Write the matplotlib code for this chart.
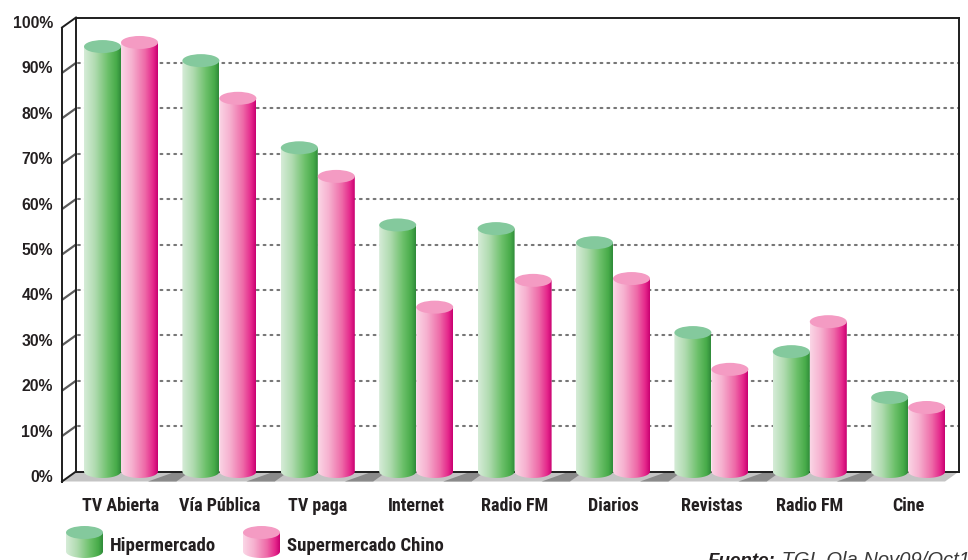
import numpy as np
import matplotlib
matplotlib.use('Agg')
import matplotlib.pyplot as plt
from matplotlib import font_manager as fm
from matplotlib.colors import LinearSegmentedColormap
from matplotlib.patches import Ellipse, PathPatch, Polygon
from matplotlib.path import Path

# ---------------- data ----------------
categories = ["TV Abierta", "Vía Pública", "TV paga", "Internet", "Radio FM",
              "Diarios", "Revistas", "Radio FM", "Cine"]
hipermercado = [93.6, 90.5, 71.3, 54.3, 53.5, 50.4, 30.6, 26.4, 16.3]
supermercado_chino = [94.5, 82.2, 65.0, 36.2, 42.1, 42.5, 22.5, 33.0, 14.1]
series_names = ["Hipermercado", "Supermercado Chino"]
y_ticks = list(range(0, 101, 10))
y_tick_labels = [f"{t}%" for t in y_ticks]
source_bold = "Fuente:"
source_text = " TGI, Ola Nov09/Oct10"

# ---------------- fonts ----------------
_fonts = fm.fontManager.ttflist
_names = {f.name for f in _fonts}
COND_STRETCH = 'normal'
COND_SCALE = 1.0
COND = None
for cand in ['Liberation Sans Narrow', 'Roboto Condensed', 'Open Sans Condensed',
             'Noto Sans Condensed', 'DejaVu Sans Condensed']:
    if cand in _names:
        COND = cand
        break
if COND is None:
    if any(f.name == 'DejaVu Sans' and 'condensed' in str(f.stretch) for f in _fonts):
        COND = 'DejaVu Sans'
        COND_STRETCH = 'condensed'
        COND_SCALE = 0.95
    else:
        COND = 'Liberation Sans'
        COND_SCALE = 0.83
NARROW = [COND, 'DejaVu Sans']
REG = ['Liberation Sans', 'DejaVu Sans']

# ---------------- layout (pixel anchors) ----------------
W, H = 968, 560
X0, XS = 121.0, 98.4      # pixel x of first group centre, pixels per category
Y0, YS = 471.5, 4.54      # pixel y (from top) of 0 %, pixels per percent


def xd(px):
    return (px - X0) / XS


def yd(py):
    return (Y0 - py) / YS


fig = plt.figure(figsize=(W / 100, H / 100), dpi=100)
ax = fig.add_axes([0, 0, 1, 1])
XLIM = (xd(0), xd(W))
YLIM = (yd(H), yd(0))
ax.set_xlim(*XLIM)
ax.set_ylim(*YLIM)
ax.axis('off')

TXT = '#231f20'

BW = 37 / XS               # bar width in category units
EH = 6.5 / YS              # ellipse half height in percent units
DX, DY = -14 / XS, -10 / YS  # front plane offset
xL, xR = xd(76), xd(959)
TOP = 100

# floor
floor = Polygon([(xL, 0), (xR, 0), (xR + DX, DY), (xL + DX, DY)], closed=True,
                facecolor='#c4c4c4', edgecolor='none', zorder=1)
ax.add_patch(floor)
for i in range(len(categories) - 1):
    a = i + BW + 4 / XS
    b = i + 1 - BW + 8 / XS
    ax.add_patch(Polygon([(a + DX, DY), (b + DX, DY), (b, 0), (a - DX, 0)], closed=True,
                         facecolor='#8a8a8a', edgecolor='none', zorder=1.5))

# gridlines on back wall
for v in y_ticks[1:-1]:
    ax.plot([xL + 0.02, xR], [v, v], color='#767676', lw=1.5,
            dashes=(0.9, 2.4), dash_capstyle='round', zorder=2)
    ax.plot([xL + DX, xL], [v + DY, v], color='#5a5a5a', lw=1.6, zorder=2,
            solid_capstyle='butt')

# wall frame
LC = '#1e1e1e'
frame = [
    ([xL, xL], [0, TOP]),
    ([xL, xR], [TOP, TOP]),
    ([xR, xR], [TOP, 0]),
    ([xL, xR], [0, 0]),
    ([xL + DX, xL + DX], [DY, TOP + DY]),
    ([xL + DX, xL], [TOP + DY, TOP]),
    ([xL + DX, xL], [DY, 0]),
]
for xs, ys in frame:
    ax.plot(xs, ys, color=LC, lw=1.4, zorder=3, solid_capstyle='projecting')

green_cmap = LinearSegmentedColormap.from_list('g', [
    (0.0, '#d6ecd8'), (0.3, '#b0dbb0'), (0.65, '#6cc06a'),
    (0.88, '#47ab49'), (1.0, '#2f8a3a')])
pink_cmap = LinearSegmentedColormap.from_list('p', [
    (0.0, '#fbd6e6'), (0.3, '#f6b0cf'), (0.65, '#ee6aa8'),
    (0.88, '#e4258a'), (1.0, '#c80070')])
GTOP, PTOP = '#84c99d', '#f49bc3'
grad = np.linspace(0, 1, 256).reshape(1, -1)


def cylinder(x0, x1, base, top, cmap, topc, z):
    xc = (x0 + x1) / 2
    a = (x1 - x0) / 2
    t = np.linspace(np.pi, 2 * np.pi, 60)
    arc = np.column_stack([xc + a * np.cos(t), base + EH * np.sin(t)])
    verts = np.vstack([[x0, top], arc, [x1, top], [x0, top]])
    patch = PathPatch(Path(verts, closed=True), facecolor='none',
                      edgecolor='none', transform=ax.transData)
    ax.add_patch(patch)
    im = ax.imshow(grad, extent=[x0, x1, base - EH, top], cmap=cmap,
                   aspect='auto', origin='lower', zorder=z,
                   interpolation='bilinear')
    im.set_clip_path(patch)
    ax.add_patch(Ellipse((xc, top), 2 * a, 2 * EH, facecolor=topc,
                         edgecolor='none', zorder=z + 0.1))


for i, (g, p) in enumerate(zip(hipermercado, supermercado_chino)):
    cylinder(i - BW, i, 0, g, green_cmap, GTOP, 5 + i * 0.01)
    cylinder(i, i + BW, 0, p, pink_cmap, PTOP, 5.005 + i * 0.01)

# category labels
for i, c in enumerate(categories):
    ax.text(i, yd(511), c, ha='center', va='baseline', fontsize=13 * COND_SCALE,
            fontweight='bold', family=NARROW, fontstretch=COND_STRETCH, color=TXT)

# y labels
for v, lab in zip(y_ticks, y_tick_labels):
    ax.text(xd(53), v - 10.5 / YS, lab, ha='right', va='baseline',
            fontsize=11.3, fontweight='bold', family=REG, color=TXT)

# legend
cylinder(xd(66), xd(103), yd(551.5), yd(532.5), green_cmap, GTOP, 6)
cylinder(xd(243), xd(280), yd(551.5), yd(532.5), pink_cmap, PTOP, 6)
ax.text(xd(110), yd(551), series_names[0], ha='left', va='baseline',
        fontsize=13.5 * COND_SCALE, fontweight='bold', family=NARROW,
        fontstretch=COND_STRETCH, color=TXT)
ax.text(xd(287), yd(551), series_names[1], ha='left', va='baseline',
        fontsize=13.5 * COND_SCALE, fontweight='bold', family=NARROW,
        fontstretch=COND_STRETCH, color=TXT)

# source
t1 = ax.text(xd(708), yd(570), source_bold, ha='left', va='bottom',
             fontsize=13.5, fontweight='bold', style='italic', family=REG,
             color=TXT)
ax.annotate(source_text, xy=(1, 0), xycoords=t1, ha='left', va='bottom',
            fontsize=14.5, style='italic', family=REG, color='#3a3a3a')

ax.set_xlim(*XLIM)
ax.set_ylim(*YLIM)
fig.savefig('out.png', dpi=100)
